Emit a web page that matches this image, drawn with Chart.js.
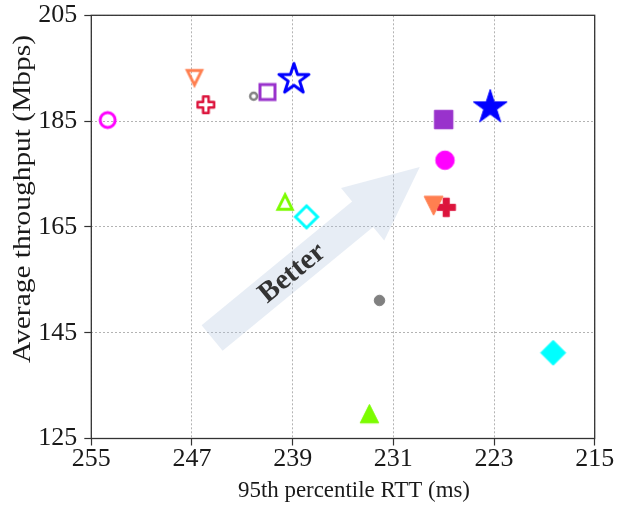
<!DOCTYPE html>
<html>
<head>
<meta charset="utf-8">
<script src="https://cdn.jsdelivr.net/npm/chart.js@4.4.1/dist/chart.umd.min.js"></script>
<style>
  html, body { margin: 0; padding: 0; background: #fff; }
  #chart { display: block; }
</style>
</head>
<body>
<canvas id="chart" width="627" height="512"></canvas>
<script>
// data (x = 95th percentile RTT, y = average throughput)
const rttOpen = [253.7, 246.8, 245.9, 242.1, 241.0, 238.9, 239.6, 237.9];
const tputOpen = [185.2, 193.2, 188.1, 189.7, 190.5, 192.9, 169.7, 166.9];
const rttSolid = [226.9, 227.8, 226.8, 232.1, 227.0, 223.3, 232.9, 218.3];
const tputSolid = [177.6, 169.0, 168.7, 151.1, 185.3, 187.6, 129.7, 141.2];
const xTicks = [255, 247, 239, 231, 223, 215];
const yTicks = [125, 145, 165, 185, 205];
const arrowFrom = { x: 245.4, y: 144.0 };
const arrowTo = { x: 228.9, y: 176.3 };

// marker styles, one per colour group
const colors = ["#ff00ff", "#ff7f50", "#dc143c", "#808080", "#9932cc", "#0000ff", "#7cfc00", "#00ffff"];
const shapes = ["circle", "triangleDown", "plus", "circle", "square", "star", "triangle", "diamond"];
const openSize = [15, 14.5, 16.5, 7, 15, 30, 14.5, 22];
const openWidth = [3, 2.8, 2.5, 2.5, 3, 3, 2.8, 3];
const solidSize = [18.5, 19, 18.5, 10.5, 18.5, 34, 18.5, 25];

const SERIF = "'Liberation Serif', 'Times New Roman', serif";

function tracePath(g, shape, s) {
  const h = s / 2;
  g.beginPath();
  if (shape === "circle") {
    g.arc(0, 0, h, 0, Math.PI * 2);
  } else if (shape === "square") {
    g.rect(-h, -h, s, s);
  } else if (shape === "diamond") {
    g.moveTo(0, -h); g.lineTo(h, 0); g.lineTo(0, h); g.lineTo(-h, 0);
  } else if (shape === "triangle") {
    g.moveTo(0, -h); g.lineTo(h, h); g.lineTo(-h, h);
  } else if (shape === "triangleDown") {
    g.moveTo(0, h); g.lineTo(h, -h); g.lineTo(-h, -h);
  } else if (shape === "plus") {
    const a = s / 6;
    const pts = [[-a, -h], [a, -h], [a, -a], [h, -a], [h, a], [a, a], [a, h], [-a, h], [-a, a], [-h, a], [-h, -a], [-a, -a]];
    pts.forEach(([x, y], i) => (i ? g.lineTo(x, y) : g.moveTo(x, y)));
  } else if (shape === "star") {
    const R = s / 1.902;
    const r = R * 0.382;
    for (let k = 0; k < 10; k++) {
      const ang = -Math.PI / 2 + k * Math.PI / 5;
      const rad = k % 2 ? r : R;
      const x = Math.cos(ang) * rad, y = Math.sin(ang) * rad;
      k ? g.lineTo(x, y) : g.moveTo(x, y);
    }
  }
  g.closePath();
}

function makeMarker(shape, size, color, filled, lw) {
  const dim = Math.ceil(size + lw * 4 + 4);
  const c = document.createElement("canvas");
  c.width = c.height = dim;
  const g = c.getContext("2d");
  g.translate(dim / 2, dim / 2);
  tracePath(g, shape, size);
  g.lineJoin = shape === "star" || shape === "plus" || filled ? "round" : "miter";
  g.strokeStyle = color;
  if (filled) {
    g.fillStyle = color;
    g.fill();
    g.lineWidth = 1;
    g.stroke();
  } else {
    g.lineWidth = lw;
    g.stroke();
  }
  return c;
}

const datasets = [];
colors.forEach((color, i) => {
  datasets.push({
    data: [{ x: rttOpen[i], y: tputOpen[i] }],
    pointStyle: makeMarker(shapes[i], openSize[i], color, false, openWidth[i]),
  });
  datasets.push({
    data: [{ x: rttSolid[i], y: tputSolid[i] }],
    pointStyle: makeMarker(shapes[i], solidSize[i], color, true, 1),
  });
});

function drawFitted(ctx, text, cx, cy, rot, font, targetLen) {
  ctx.save();
  ctx.font = font;
  const w = ctx.measureText(text).width;
  ctx.translate(cx, cy);
  ctx.rotate(rot);
  ctx.scale(targetLen / w, 1);
  ctx.textAlign = "center";
  ctx.textBaseline = "middle";
  ctx.fillStyle = "#1a1a1a";
  ctx.fillText(text, 0, 0);
  ctx.restore();
}

const decorations = {
  id: "decorations",
  beforeDatasetsDraw(chart) {
    const { ctx, scales: { x, y } } = chart;
    const x0 = x.getPixelForValue(arrowFrom.x), y0 = y.getPixelForValue(arrowFrom.y);
    const x1 = x.getPixelForValue(arrowTo.x), y1 = y.getPixelForValue(arrowTo.y);
    const len = Math.hypot(x1 - x0, y1 - y0);
    const ang = Math.atan2(y1 - y0, x1 - x0);
    const shaft = 16.5, head = 34, headLen = 74;
    ctx.save();
    ctx.translate(x0, y0);
    ctx.rotate(ang);
    ctx.beginPath();
    ctx.moveTo(0, -shaft);
    ctx.lineTo(len - headLen, -shaft);
    ctx.lineTo(len - headLen, -head);
    ctx.lineTo(len, 0);
    ctx.lineTo(len - headLen, head);
    ctx.lineTo(len - headLen, shaft);
    ctx.lineTo(0, shaft);
    ctx.closePath();
    ctx.fillStyle = "rgba(176, 196, 222, 0.3)";
    ctx.fill();
    ctx.font = "bold 29px " + SERIF;
    ctx.fillStyle = "#333333";
    ctx.textAlign = "center";
    ctx.textBaseline = "middle";
    ctx.fillText("Better", 103, 1);
    ctx.restore();
  },
  afterDraw(chart) {
    const { ctx, chartArea: a } = chart;
    ctx.save();
    ctx.strokeStyle = "#333333";
    ctx.lineWidth = 1.3;
    ctx.strokeRect(a.left, a.top, a.right - a.left, a.bottom - a.top);
    ctx.restore();
    drawFitted(ctx, "Average throughput (Mbps)", 23.5, 199, -Math.PI / 2, "25px " + SERIF, 328);
    drawFitted(ctx, "95th percentile RTT (ms)", 354, 491, 0, "23px " + SERIF, 232);
  },
};

const gridStyle = {
  color: "#b3b3b3",
  lineWidth: 1,
  tickLength: 7,
  tickColor: "#333333",
  tickWidth: 1.2,
  tickBorderDash: [],
};

function noOverflow(s) {
  s.paddingTop = 0;
  s.paddingBottom = 0;
  s.paddingLeft = 0;
  s.paddingRight = 0;
}

new Chart(document.getElementById("chart"), {
  type: "scatter",
  data: { datasets },
  plugins: [decorations],
  options: {
    responsive: false,
    animation: false,
    layout: { padding: { top: 15.3, right: 32.3, left: 0, bottom: 0 } },
    plugins: { legend: { display: false }, tooltip: { enabled: false } },
    elements: { point: { radius: 10 } },
    scales: {
      x: {
        reverse: true,
        min: Math.min(...xTicks),
        max: Math.max(...xTicks),
        afterBuildTicks: (s) => { s.ticks = xTicks.map((v) => ({ value: v })); },
        afterFit: (s) => { s.height = 73.5; noOverflow(s); },
        grid: gridStyle,
        border: { display: false, dash: [2, 2] },
        ticks: { font: { family: SERIF, size: 26 }, color: "#1a1a1a", padding: -2, maxRotation: 0, autoSkip: false },
      },
      y: {
        min: Math.min(...yTicks),
        max: Math.max(...yTicks),
        afterBuildTicks: (s) => { s.ticks = yTicks.map((v) => ({ value: v })); },
        afterFit: (s) => { s.width = 91.3; noOverflow(s); },
        grid: gridStyle,
        border: { display: false, dash: [2, 2] },
        ticks: { font: { family: SERIF, size: 26 }, color: "#1a1a1a", padding: 7, autoSkip: false },
      },
    },
  },
});
</script>
</body>
</html>
